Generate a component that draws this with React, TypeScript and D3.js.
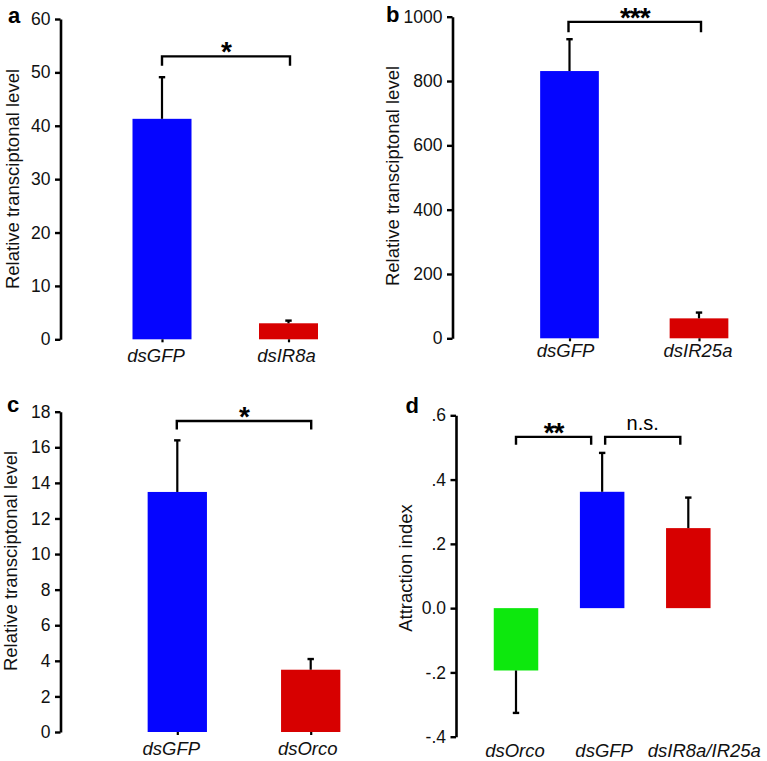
import React, { useEffect, useRef } from "react";
import * as d3 from "d3";

// ---------- DATA ----------
const A_CATS = ["dsGFP", "dsIR8a"];
const A_MEAN = [41.3, 3.0];
const A_ERR = [7.8, 0.5];
const A_TICKS = [0, 10, 20, 30, 40, 50, 60];
const A_TICK_LABELS = ["0", "10", "20", "30", "40", "50", "60"];
const A_SIG = [{ from: 0, to: 1, y: 53, label: "*" }];

const B_CATS = ["dsGFP", "dsIR25a"];
const B_MEAN = [831, 62];
const B_ERR = [99, 18];
const B_TICKS = [0, 200, 400, 600, 800, 1000];
const B_TICK_LABELS = ["0", "200", "400", "600", "800", "1000"];
const B_SIG = [{ from: 0, to: 1, y: 984, label: "***" }];

const C_CATS = ["dsGFP", "dsOrco"];
const C_MEAN = [13.49, 3.5];
const C_ERR = [2.9, 0.6];
const C_TICKS = [0, 2, 4, 6, 8, 10, 12, 14, 16, 18];
const C_TICK_LABELS = ["0", "2", "4", "6", "8", "10", "12", "14", "16", "18"];
const C_SIG = [{ from: 0, to: 1, y: 17.48, label: "*" }];

const D_CATS = ["dsOrco", "dsGFP", "dsIR8a/IR25a"];
const D_MEAN = [-0.194, 0.362, 0.249];
const D_ERR = [0.132, 0.121, 0.095];
const D_TICKS = [-0.4, -0.2, 0, 0.2, 0.4, 0.6];
const D_TICK_LABELS = ["-.4", "-.2", "0.0", ".2", ".4", ".6"];
const D_SIG = [
  { from: 0, to: 1, y: 0.533, label: "**" },
  { from: 1, to: 2, y: 0.533, label: "n.s." },
];

const BLUE = "#0505ff";
const RED = "#d70000";
const GREEN = "#0de80d";

const FONT = "'Liberation Sans', Arial, Helvetica, sans-serif";

type Sig = { from: number; to: number; y: number; label: string };
type PanelCfg = {
  letter: string;
  letterX: number;
  letterY: number;
  cats: string[];
  mean: number[];
  err: number[];
  colors: string[];
  ticks: number[];
  tickLabels: string[];
  domain: [number, number];
  yRange: [number, number];
  xRange: [number, number];
  axisX: number;
  barW: number;
  xTicks: boolean;
  labelY: number;
  labelDx: number[];
  ylabel: string;
  ylabelX: number;
  ylabelY: number;
  sig: Sig[];
  sigInset: [number, number][];
  sigDrop: number;
};

const PANELS: PanelCfg[] = [
  {
    letter: "a", letterX: 8, letterY: 23,
    cats: A_CATS, mean: A_MEAN, err: A_ERR, colors: [BLUE, RED],
    ticks: A_TICKS, tickLabels: A_TICK_LABELS, domain: [0, 60],
    yRange: [339.3, 19], xRange: [162, 288.5], axisX: 60.5, barW: 59,
    xTicks: true, labelY: 362, labelDx: [-6, -2],
    ylabel: "Relative transciptonal level", ylabelX: 12, ylabelY: 179,
    sig: A_SIG, sigInset: [[0, 1.5]], sigDrop: 9.5,
  },
  {
    letter: "b", letterX: 386, letterY: 22,
    cats: B_CATS, mean: B_MEAN, err: B_ERR, colors: [BLUE, RED],
    ticks: B_TICKS, tickLabels: B_TICK_LABELS, domain: [0, 1000],
    yRange: [338.3, 16.7], xRange: [569.5, 699], axisX: 452.5, barW: 58.7,
    xTicks: true, labelY: 357, labelDx: [-4, -1],
    ylabel: "Relative transciptonal level", ylabelX: 392, ylabelY: 176,
    sig: B_SIG, sigInset: [[-1, 2]], sigDrop: 10.5,
  },
  {
    letter: "c", letterX: 7, letterY: 411.7,
    cats: C_CATS, mean: C_MEAN, err: C_ERR, colors: [BLUE, RED],
    ticks: C_TICKS, tickLabels: C_TICK_LABELS, domain: [0, 18],
    yRange: [732, 411.7], xRange: [177.3, 310.7], axisX: 60.5, barW: 59.3,
    xTicks: true, labelY: 755, labelDx: [-6, -3],
    ylabel: "Relative transciptonal level", ylabelX: 10, ylabelY: 561,
    sig: C_SIG, sigInset: [[-0.5, 0.5]], sigDrop: 8.5,
  },
  {
    letter: "d", letterX: 405.5, letterY: 412.5,
    cats: D_CATS, mean: D_MEAN, err: D_ERR, colors: [GREEN, BLUE, RED],
    ticks: D_TICKS, tickLabels: D_TICK_LABELS, domain: [-0.4, 0.6],
    yRange: [736.7, 415.3], xRange: [516, 688.3], axisX: 456, barW: 44.5,
    xTicks: false, labelY: 757, labelDx: [-1, 2, 16],
    ylabel: "Attraction index", ylabelX: 405, ylabelY: 568,
    sig: D_SIG, sigInset: [[0, -11], [3, -8]], sigDrop: 8,
  },
];

function drawPanel(g: d3.Selection<SVGGElement, unknown, null, undefined>, p: PanelCfg) {
  const y = d3.scaleLinear().domain(p.domain).range(p.yRange);
  const x = d3.scalePoint<string>().domain(p.cats).range(p.xRange);
  const cx = (i: number) => x(p.cats[i]) as number;

  // bars
  g.append("g")
    .selectAll("rect")
    .data(p.mean)
    .join("rect")
    .attr("x", (_d, i) => cx(i) - p.barW / 2)
    .attr("y", (d) => y(Math.max(0, d)))
    .attr("width", p.barW)
    .attr("height", (d) => Math.abs(y(d) - y(0)))
    .attr("fill", (_d, i) => p.colors[i]);

  // error bars
  const eb = g.append("g").attr("stroke", "#000");
  p.mean.forEach((m, i) => {
    const end = m + Math.sign(m) * p.err[i];
    eb.append("line")
      .attr("x1", cx(i)).attr("x2", cx(i))
      .attr("y1", y(m)).attr("y2", y(end))
      .attr("stroke-width", 2.2);
    eb.append("line")
      .attr("x1", cx(i) - 3.2).attr("x2", cx(i) + 3.2)
      .attr("y1", y(end)).attr("y2", y(end))
      .attr("stroke-width", 2.4);
  });

  // y axis
  const ax = g.append("g")
    .attr("transform", `translate(${p.axisX},0)`)
    .call(
      d3.axisLeft(y)
        .tickValues(p.ticks)
        .tickFormat((_d, i) => p.tickLabels[i])
        .tickSize(5.5)
        .tickPadding(4.5)
        .tickSizeOuter(0)
    );
  ax.select(".domain").attr("stroke", "#000").attr("stroke-width", 2.6);
  ax.selectAll(".tick line").attr("stroke", "#000").attr("stroke-width", 2.4);
  ax.selectAll(".tick text")
    .attr("fill", "#111")
    .style("font-family", FONT)
    .style("font-size", "17.5px");

  // x ticks
  if (p.xTicks) {
    const xa = g.append("g")
      .attr("transform", `translate(0,${y(p.domain[0])})`)
      .call(d3.axisBottom(x).tickSize(3).tickFormat(() => "").tickSizeOuter(0));
    xa.select(".domain").remove();
    xa.selectAll(".tick line").attr("stroke", "#000").attr("stroke-width", 2.2);
  }

  // x labels
  g.append("g")
    .selectAll("text")
    .data(p.cats)
    .join("text")
    .attr("x", (d, i) => (x(d) as number) + p.labelDx[i])
    .attr("y", p.labelY)
    .attr("text-anchor", "middle")
    .attr("fill", "#111")
    .style("font-family", FONT)
    .style("font-style", "italic")
    .style("font-size", "18.5px")
    .text((d) => d);

  // y label
  g.append("text")
    .attr("transform", `translate(${p.ylabelX},${p.ylabelY}) rotate(-90)`)
    .attr("text-anchor", "middle")
    .attr("dominant-baseline", "central")
    .attr("fill", "#111")
    .style("font-family", FONT)
    .style("font-size", "18.5px")
    .text(p.ylabel);

  // panel letter
  g.append("text")
    .attr("x", p.letterX)
    .attr("y", p.letterY)
    .attr("fill", "#000")
    .style("font-family", FONT)
    .style("font-weight", "bold")
    .style("font-size", "22px")
    .text(p.letter);

  // significance brackets
  p.sig.forEach((s, k) => {
    const x1 = cx(s.from) + p.sigInset[k][0];
    const x2 = cx(s.to) + p.sigInset[k][1];
    const yy = y(s.y);
    g.append("path")
      .attr("d", `M${x1},${yy + p.sigDrop}V${yy}H${x2}V${yy + p.sigDrop}`)
      .attr("fill", "none")
      .attr("stroke", "#000")
      .attr("stroke-width", 2.4);
    const isStar = s.label.includes("*");
    g.append("text")
      .attr("x", (x1 + x2) / 2)
      .attr("y", isStar ? yy + 5 : yy - 6.5)
      .attr("text-anchor", "middle")
      .attr("fill", "#000")
      .style("font-family", FONT)
      .style("font-weight", isStar ? "bold" : "normal")
      .style("font-size", isStar ? "28px" : "20px")
      .style("letter-spacing", isStar ? "-1px" : "0px")
      .text(s.label);
  });
}

export default function App() {
  const ref = useRef<SVGSVGElement>(null);
  useEffect(() => {
    const svg = d3.select(ref.current as SVGSVGElement);
    svg.selectAll("*").remove();
    PANELS.forEach((p) => {
      drawPanel(svg.append("g") as any, p);
    });
  }, []);
  return (
    <svg
      ref={ref}
      width={767}
      height={761}
      style={{ position: "absolute", left: 0, top: 0, background: "#fff" }}
    />
  );
}
